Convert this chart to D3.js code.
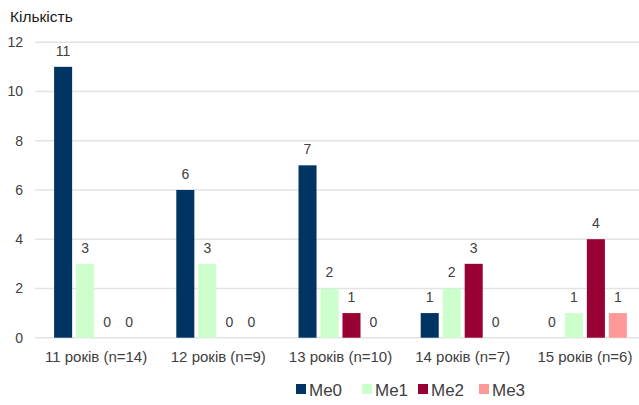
<!DOCTYPE html>
<html><head><meta charset="utf-8">
<script src="https://cdn.jsdelivr.net/npm/d3@7"></script>
<style>body{margin:0;background:#fff;} svg{display:block;font-family:"Liberation Sans",Arial,sans-serif;}</style>
</head><body>
<svg id="c" width="639" height="405"></svg>
<script>
const categories = ["11 років (n=14)", "12 років (n=9)", "13 років (n=10)", "14 років (n=7)", "15 років (n=6)"];
const seriesNames = ["Me0", "Me1", "Me2", "Me3"];
const me0 = [11, 6, 7, 1, 0];
const me1 = [3, 3, 2, 2, 1];
const me2 = [0, 0, 1, 3, 4];
const me3 = [0, 0, 0, 0, 1];
const colors = ["#003462", "#ccffcc", "#990033", "#ff9999"];
const yTicks = [0, 2, 4, 6, 8, 10, 12];
const yTitle = "Кількість";

const values = [me0, me1, me2, me3];
const svg = d3.select("#c");
const x0 = d3.scaleBand().domain(categories).range([35, 646]).padding(0);
const half = 42;
const x1 = d3.scaleBand().domain(seriesNames)
  .range([x0.bandwidth()/2 - half, x0.bandwidth()/2 + half]).paddingInner(0.18).paddingOuter(0);
const y = d3.scaleLinear().domain([0, 12]).range([337.7, 42.2]);
const color = d3.scaleOrdinal().domain(seriesNames).range(colors);

// gridlines
svg.append("g").selectAll("line").data(yTicks).join("line")
  .attr("x1", 35).attr("x2", 639)
  .attr("y1", d => y(d)).attr("y2", d => y(d))
  .attr("stroke", "#e3e3e3").attr("stroke-width", 1.5);

// y tick labels
svg.append("g").selectAll("text").data(yTicks).join("text")
  .attr("x", 23).attr("y", d => y(d)).attr("dy", "0.36em")
  .attr("text-anchor", "end").attr("font-size", 14).attr("fill", "#404040")
  .text(d => d);

// y title
svg.append("text").attr("x", 10).attr("y", 22).attr("font-size", 15.5).attr("fill", "#1a1a1a").text(yTitle);

// bars
const data = [];
categories.forEach((c, i) => seriesNames.forEach((s, j) => data.push({c, s, v: values[j][i]})));
const g = svg.append("g");
g.selectAll("rect").data(data.filter(d => d.v > 0)).join("rect")
  .attr("x", d => x0(d.c) + x1(d.s))
  .attr("width", x1.bandwidth())
  .attr("y", d => y(d.v))
  .attr("height", d => y(0) - y(d.v))
  .attr("fill", d => color(d.s));

g.selectAll("text").data(data).join("text")
  .attr("x", d => x0(d.c) + x1(d.s) + x1.bandwidth()/2)
  .attr("y", d => y(d.v) - 11)
  .attr("text-anchor", "middle").attr("font-size", 14).attr("fill", "#404040")
  .text(d => d.v);

// category labels
svg.append("g").selectAll("text").data(categories).join("text")
  .attr("x", d => x0(d) + x0.bandwidth()/2).attr("y", 362)
  .attr("text-anchor", "middle").attr("font-size", 15).attr("fill", "#404040")
  .text(d => d);

// legend
const legendX = [296, 362, 418, 479];
const lg = svg.append("g");
seriesNames.forEach((s, i) => {
  lg.append("rect").attr("x", legendX[i]).attr("y", 384).attr("width", 10).attr("height", 10).attr("fill", color(s));
  lg.append("text").attr("x", legendX[i] + 13).attr("y", 395.5).attr("font-size", 17).attr("fill", "#404040").text(s);
});
</script>
</body></html>
